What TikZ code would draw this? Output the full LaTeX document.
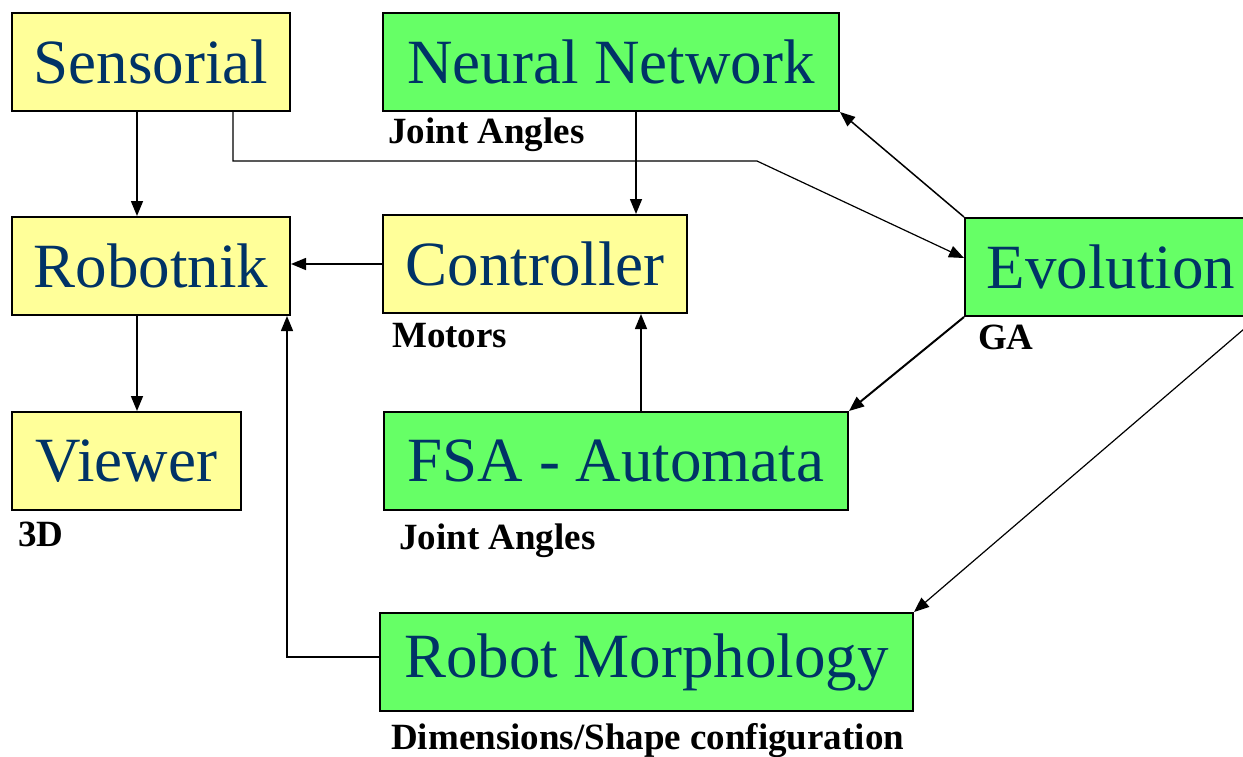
\documentclass[tikz,border=0pt]{standalone}
\usepackage{fontspec}
\setmainfont{Liberation Serif}
\usetikzlibrary{arrows.meta}
\definecolor{boxyellow}{HTML}{FFFF99}
\definecolor{boxgreen}{HTML}{66FF66}
\definecolor{navy}{HTML}{003366}
\tikzset{
  basebox/.style={draw=black, line width=2pt, inner sep=0pt, anchor=north west,
    text=navy, font=\fontsize{63}{70}\selectfont, minimum height=98pt},
  ybox/.style={basebox, fill=boxyellow},
  gbox/.style={basebox, fill=boxgreen},
  lbl/.style={anchor=base west, inner sep=0pt, font=\fontsize{37}{40}\selectfont\bfseries},
  arr/.style={line width=1.5pt, -{Triangle[length=15pt,width=12pt]}},
  arrthin/.style={line width=1.2pt, -{Triangle[length=15pt,width=12pt]}},
}
\begin{document}
\begin{tikzpicture}[x=1pt,y=-1pt]
\useasboundingbox (0,0) rectangle (1243,756);
% boxes
\node[ybox, minimum width=278pt] (sens) at (11,12) {Sensorial};
\node[gbox, minimum width=456pt] (nn) at (382,12) {Neural Network};
\node[ybox, minimum width=278pt] (rob) at (11,216) {Robotnik};
\node[ybox, minimum width=304pt] (ctl) at (382,214) {Controller};
\node[gbox, minimum width=292pt] (evo) at (964,217) {Evolution};
\node[ybox, minimum width=229pt] (view) at (11,411) {Viewer};
\node[gbox, minimum width=464pt] (fsa) at (383,411) {FSA - Automata};
\node[gbox, minimum width=533pt] (morph) at (379,612) {Robot Morphology};
% labels
\node[lbl] (lja1) at (388,143) {Joint Angles};
\node[lbl] (lmot) at (392,347) {Motors};
\node[lbl] (lga) at (978,349) {GA};
\node[lbl] (l3d) at (18,546) {3D};
\node[lbl] (lja2) at (399,549) {Joint Angles};
\node[lbl] (ldim) at (391,749) {Dimensions/Shape configuration};
% connectors
\coordinate (bend) at (757,161);
\draw[arr] ([xshift=-14pt]sens.south) -- ([xshift=-14pt]rob.north);
\draw[arrthin] ([xshift=82pt]sens.south) |- (bend) -- ([yshift=9pt]evo.west);
\draw[arr] ([xshift=25pt]nn.south) -- ([xshift=25pt]nn.south |- ctl.north);
\draw[arr] (ctl.west) -- (ctl.west -| rob.east);
\draw[arr] (evo.north west) -- (nn.south east);
\draw[line width=2pt, -{Triangle[length=15pt,width=12pt]}] (evo.south west) -- (fsa.north east);
\draw[arrthin] (evo.south east) -- (morph.north east);
\draw[arr] ([xshift=25pt]fsa.north) -- ([xshift=25pt]fsa.north |- ctl.south);
\draw[arr] ([yshift=5pt]morph.west) -| ([xshift=-4pt]rob.south east);
\draw[arr] ([xshift=-14pt]rob.south) -- ([xshift=-14pt]rob.south |- view.north);
\end{tikzpicture}
\end{document}
